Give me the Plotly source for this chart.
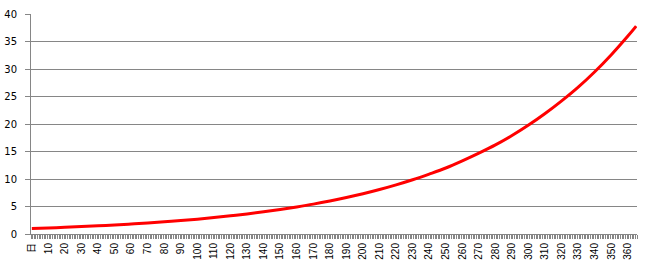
import plotly.graph_objects as go

# Day index (category position) and value
days = [0, 10, 20, 30, 40, 50, 60, 70, 80, 90, 100, 110, 120, 130, 140, 150, 160, 170, 180,
        190, 200, 210, 220, 230, 240, 250, 260, 270, 280, 290, 300, 310, 320, 330, 340, 350,
        360, 365]
values = [1.00, 1.10, 1.22, 1.35, 1.49, 1.64, 1.82, 2.01, 2.22, 2.45, 2.70, 2.99, 3.30, 3.65,
          4.03, 4.45, 4.92, 5.43, 6.00, 6.63, 7.32, 8.09, 8.94, 9.87, 10.9, 12.0, 13.3, 14.7,
          16.2, 17.9, 19.8, 21.9, 24.2, 26.7, 29.5, 32.6, 36.0, 37.8]

tick_pos = [0, 10, 20, 30, 40, 50, 60, 70, 80, 90, 100, 110, 120, 130, 140, 150, 160, 170,
            180, 190, 200, 210, 220, 230, 240, 250, 260, 270, 280, 290, 300, 310, 320, 330,
            340, 350, 360]
tick_labels = ["日"] + [str(v) for v in tick_pos[1:]]

y_font = "DejaVu Sans, Noto Sans CJK SC, sans-serif"
x_font = "Liberation Sans, Noto Sans CJK SC, sans-serif"

fig = go.Figure()
fig.add_trace(go.Scatter(
    x=days, y=values, mode="lines",
    line=dict(color="#ff0000", width=3, shape="spline"),
    hoverinfo="skip", showlegend=False,
))

fig.update_layout(
    width=650, height=270,
    margin=dict(l=31, r=13, t=14, b=36),
    paper_bgcolor="white", plot_bgcolor="white",
    font=dict(family=y_font, size=10, color="black"),
    xaxis=dict(
        range=[-0.5, 365.5], automargin=False,
        tickmode="array", tickvals=tick_pos, ticktext=tick_labels,
        tickangle=-90, ticks="", showgrid=False, zeroline=False,
        showline=True, linecolor="#868686", linewidth=1,
        tickfont=dict(size=10, family=x_font),
        ticklabelstandoff=4,
        minor=dict(tick0=-0.5, dtick=1, ticks="outside", ticklen=4,
                   tickcolor="#868686", tickwidth=1, showgrid=False),
    ),
    yaxis=dict(
        range=[0, 40], dtick=5, tick0=0, automargin=False,
        showgrid=True, gridcolor="#868686", gridwidth=1,
        zeroline=False, showline=True, linecolor="#868686", linewidth=1,
        ticks="outside", ticklen=5, tickcolor="#868686",
        ticklabelstandoff=6,
        tickfont=dict(size=10, family=y_font),
    ),
)

fig.write_html("out.html")
